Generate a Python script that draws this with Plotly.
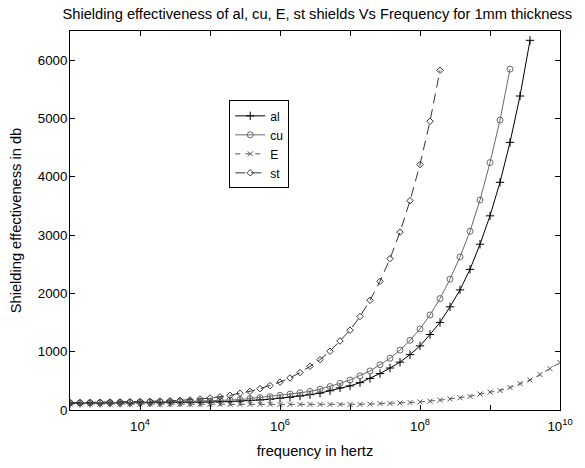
import numpy as np
import plotly.graph_objects as go

# frequency grid (50 log-spaced points, 1e3 .. 1e10 Hz)
freq = np.logspace(3, 10, 50)

al = [115, 116, 117, 118, 119, 120, 121, 122, 123, 124, 126, 127, 128, 129, 134,
      140, 145, 151, 165, 173, 184, 201, 218, 240, 263, 290, 330, 380, 413, 469,
      541, 625, 720, 821, 950, 1100, 1295, 1502, 1770, 2060, 2412, 2843, 3330,
      3905, 4590, 5385, 6340]
cu = [120, 121, 123, 125, 127, 129, 131, 133, 136, 139, 142, 145, 148, 151, 156,
      165, 170, 179, 196, 213, 229, 251, 273, 296, 318, 357, 402, 457, 514, 586,
      670, 776, 888, 1027, 1195, 1390, 1630, 1910, 2245, 2625, 3065, 3601, 4243,
      4972, 5846]
E = [105, 104, 104, 103, 103, 102, 102, 101, 101, 100, 100, 100, 99, 99, 99,
     98, 98, 98, 97, 97, 97, 96, 96, 96, 96, 95, 95, 95, 95, 96,
     100, 110, 112, 120, 129, 139, 151, 168, 190, 210, 234, 274, 307, 335, 385,
     452, 514, 608, 709, 815]
st = [125, 127, 129, 131, 134, 137, 140, 144, 148, 153, 158, 165, 173, 188, 206,
      225, 251, 288, 320, 366, 419, 478, 550, 642, 749, 863, 1008, 1184, 1368,
      1603, 1881, 2206, 2596, 3050, 3590, 4210, 4952, 5826]

xtick_vals = [1e3, 1e4, 1e5, 1e6, 1e7, 1e8, 1e9, 1e10]
xtick_text = ["", "10<sup>4</sup>", "", "10<sup>6</sup>", "", "10<sup>8</sup>", "", "10<sup>10</sup>"]
ytick_vals = [0, 1000, 2000, 3000, 4000, 5000, 6000]

FONT = "Liberation Sans, Arial, sans-serif"

fig = go.Figure()
fig.add_trace(go.Scatter(x=freq[:len(al)], y=al, name="al", mode="lines+markers",
                         line=dict(color="#000000", width=1),
                         marker=dict(symbol="cross-thin-open", size=6, color="#000000",
                                     line=dict(width=1, color="#000000"))))
fig.add_trace(go.Scatter(x=freq[:len(cu)], y=cu, name="cu", mode="lines+markers",
                         line=dict(color="#6a6a6a", width=1),
                         marker=dict(symbol="circle-open", size=6, color="#6a6a6a",
                                     line=dict(width=1, color="#6a6a6a"))))
fig.add_trace(go.Scatter(x=freq[:len(E)], y=E, name="E", mode="lines+markers",
                         line=dict(color="#555555", width=1, dash="5px,5px"),
                         marker=dict(symbol="x-thin-open", size=5, color="#555555",
                                     line=dict(width=1, color="#555555"))))
fig.add_trace(go.Scatter(x=freq[:len(st)], y=st, name="st", mode="lines+markers",
                         line=dict(color="#333333", width=1, dash="10px,6px"),
                         marker=dict(symbol="diamond-open", size=5, color="#333333",
                                     line=dict(width=1, color="#333333"))))

fig.update_layout(
    width=585, height=468,
    margin=dict(l=70, r=20, t=31, b=49),
    paper_bgcolor="white", plot_bgcolor="white",
    hovermode=False,
    font=dict(family=FONT, size=13.3, color="#000000"),
    title=dict(text="Shielding effectiveness of al, cu, E, st shields Vs Frequency for 1mm thickness",
               x=0.5425, xanchor="center", y=0.970, yanchor="middle",
               font=dict(family=FONT, size=14.67)),
    showlegend=True,
    legend=dict(x=0.325, y=0.817, xanchor="left", yanchor="top",
                bordercolor="#000000", borderwidth=1, bgcolor="white",
                font=dict(family=FONT, size=12), tracegroupgap=0),
)
fig.update_xaxes(type="log", range=[3, 10], tickvals=xtick_vals, ticktext=xtick_text,
                 ticks="inside", ticklen=5, tickcolor="#000", showline=True,
                 linecolor="#000", linewidth=1, mirror="ticks", showgrid=False,
                 zeroline=False, ticklabeloverflow="allow", ticklabelstandoff=4,
                 title=dict(text="frequency in hertz", standoff=12,
                            font=dict(family=FONT, size=14.67)),
                 tickfont=dict(family=FONT, size=13.3))
fig.update_yaxes(range=[0, 6500], tickvals=ytick_vals, ticks="inside", ticklen=5,
                 tickcolor="#000", showline=True, linecolor="#000", linewidth=1,
                 mirror="ticks", showgrid=False, zeroline=False, ticklabelstandoff=-1,
                 title=dict(text="Shielding effectiveness in db", standoff=12,
                            font=dict(family=FONT, size=14.67)),
                 tickfont=dict(family=FONT, size=13.3))

fig.write_html("out.html", config={"displayModeBar": False},
               post_script="document.body.style.margin='0';document.body.style.overflow='hidden';")
